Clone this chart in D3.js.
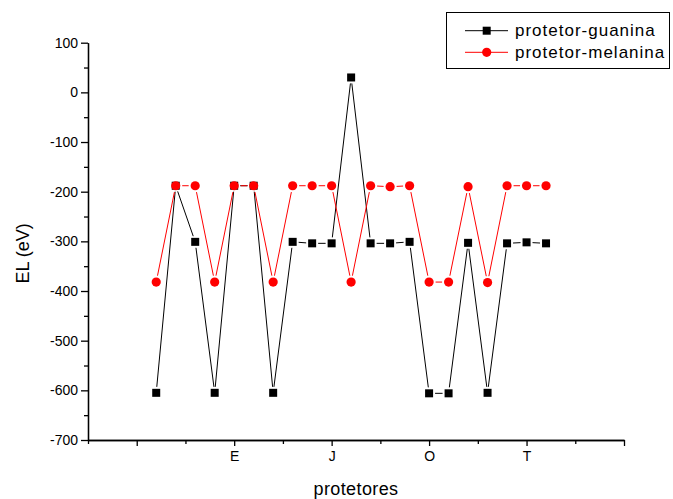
<!DOCTYPE html>
<html>
<head>
<meta charset="utf-8">
<script src="https://cdn.jsdelivr.net/npm/d3@7"></script>
<style>
  html, body { margin: 0; padding: 0; background: #fff; }
  svg { display: block; font-family: Arial, "Liberation Sans", sans-serif; }
</style>
</head>
<body>
<svg id="chart" width="673" height="499"></svg>
<script>
// Categories (one per protector, plotted at positions 1..21)
const categories = ["A","B","C","D","E","F","G","H","I","J","K","L","M","N","O","P","Q","R","S","T","U"];
// EL (eV) for each series
const guanina  = [-605,-188,-301,-605,-188,-188,-605,-301,-304,-304,30,-304,-304,-301,-606,-606,-303,-605,-304,-302,-304];
const melanina = [-382,-188,-188,-382,-188,-188,-382,-188,-188,-188,-382,-188,-190,-188,-382,-382,-190,-383,-188,-188,-188];
// Axis ticks
const yMajorTicks = [-700,-600,-500,-400,-300,-200,-100,0,100];
const yMinorTicks = [-650,-550,-450,-350,-250,-150,-50,50];
const xMajorTicks = [0,5,10,15,20,25];
const xMinorTicks = [-2.5,2.5,7.5,12.5,17.5,22.5];

const svg = d3.select("#chart");
const plotLeft = 88, plotRight = 624, plotTop = 42.7, plotBottom = 440;

const x = d3.scaleLinear().domain([-2.5, 25]).range([plotLeft, plotRight]);
const y = d3.scaleLinear().domain([-700, 100]).range([plotBottom, plotTop]);

// Y axis (plain hyphen for negative labels)
const yAxis = svg.append("g").attr("transform", `translate(${plotLeft},0)`);
yAxis.call(d3.axisLeft(y).tickValues(yMajorTicks).tickSize(7).tickSizeOuter(0).tickPadding(3).tickFormat(d => String(d)));
yAxis.append("g").call(d3.axisLeft(y).tickValues(yMinorTicks).tickSize(4).tickSizeOuter(0).tickFormat(""));
yAxis.selectAll(".domain").attr("stroke", "#000").attr("stroke-width", 1.3);
yAxis.selectAll(".tick line").attr("stroke", "#000").attr("stroke-width", 1.3);
yAxis.selectAll("text").attr("font-size", 14).attr("fill", "#000")
  .attr("font-family", "Arial, 'Liberation Sans', sans-serif");

// X axis
const xAxis = svg.append("g").attr("transform", `translate(0,${plotBottom})`);
xAxis.call(d3.axisBottom(x).tickValues(xMajorTicks).tickSize(6).tickSizeOuter(0).tickPadding(5)
  .tickFormat(v => categories[v - 1] || ""));
xAxis.append("g").call(d3.axisBottom(x).tickValues(xMinorTicks).tickSize(4).tickSizeOuter(0).tickFormat(""));
xAxis.selectAll(".domain").attr("stroke", "#000").attr("stroke-width", 1.3);
xAxis.selectAll(".tick line").attr("stroke", "#000").attr("stroke-width", 1.3);
xAxis.selectAll("text").attr("font-size", 14).attr("fill", "#000")
  .attr("font-family", "Arial, 'Liberation Sans', sans-serif");

// Axis titles
svg.append("text")
  .attr("x", (plotLeft + plotRight) / 2).attr("y", 495)
  .attr("text-anchor", "middle").attr("font-size", 18).attr("letter-spacing", 0.4)
  .text("protetores");
svg.append("text")
  .attr("transform", `translate(29,${(plotTop + plotBottom) / 2 + 12}) rotate(-90)`)
  .attr("text-anchor", "middle").attr("font-size", 18)
  .text("EL (eV)");

// Series: connecting segments stop short of the markers
function drawSeries(values, color, gap, shape) {
  const pts = values.map((v, i) => [x(i + 1), y(v)]);
  const segs = d3.pairs(pts).map(([a, b]) => {
    const dx = b[0] - a[0], dy = b[1] - a[1];
    const len = Math.hypot(dx, dy);
    const ux = dx / len, uy = dy / len;
    return [a[0] + ux * gap, a[1] + uy * gap, b[0] - ux * gap, b[1] - uy * gap];
  });
  const g = svg.append("g");
  g.selectAll("line").data(segs).join("line")
    .attr("x1", d => d[0]).attr("y1", d => d[1])
    .attr("x2", d => d[2]).attr("y2", d => d[3])
    .attr("stroke", color).attr("stroke-width", 1);
  if (shape === "square") {
    g.selectAll("rect").data(pts).join("rect")
      .attr("x", d => d[0] - 4).attr("y", d => d[1] - 4)
      .attr("width", 8).attr("height", 8).attr("fill", color);
  } else {
    g.selectAll("circle").data(pts).join("circle")
      .attr("cx", d => d[0]).attr("cy", d => d[1]).attr("r", 4.6).attr("fill", color);
  }
}
drawSeries(guanina, "#000", 6, "square");
drawSeries(melanina, "#ff0000", 6.5, "circle");

// Legend
const lg = svg.append("g");
lg.append("rect").attr("x", 446.5).attr("y", 12.5).attr("width", 223).attr("height", 56)
  .attr("fill", "#fff").attr("stroke", "#000").attr("stroke-width", 1);
const items = [
  { label: "protetor-guanina", color: "#000", shape: "square", cy: 30.7 },
  { label: "protetor-melanina", color: "#ff0000", shape: "circle", cy: 52.3 }
];
items.forEach(it => {
  lg.append("line").attr("x1", 465).attr("x2", 508).attr("y1", it.cy).attr("y2", it.cy)
    .attr("stroke", it.color).attr("stroke-width", 1);
  if (it.shape === "square") {
    lg.append("rect").attr("x", 486.7 - 4).attr("y", it.cy - 4).attr("width", 8).attr("height", 8).attr("fill", it.color);
  } else {
    lg.append("circle").attr("cx", 486.7).attr("cy", it.cy).attr("r", 4.6).attr("fill", it.color);
  }
  lg.append("text").attr("x", 515).attr("y", it.cy + 5.5)
    .attr("font-size", 17).attr("letter-spacing", 1).text(it.label);
});
</script>
</body>
</html>
